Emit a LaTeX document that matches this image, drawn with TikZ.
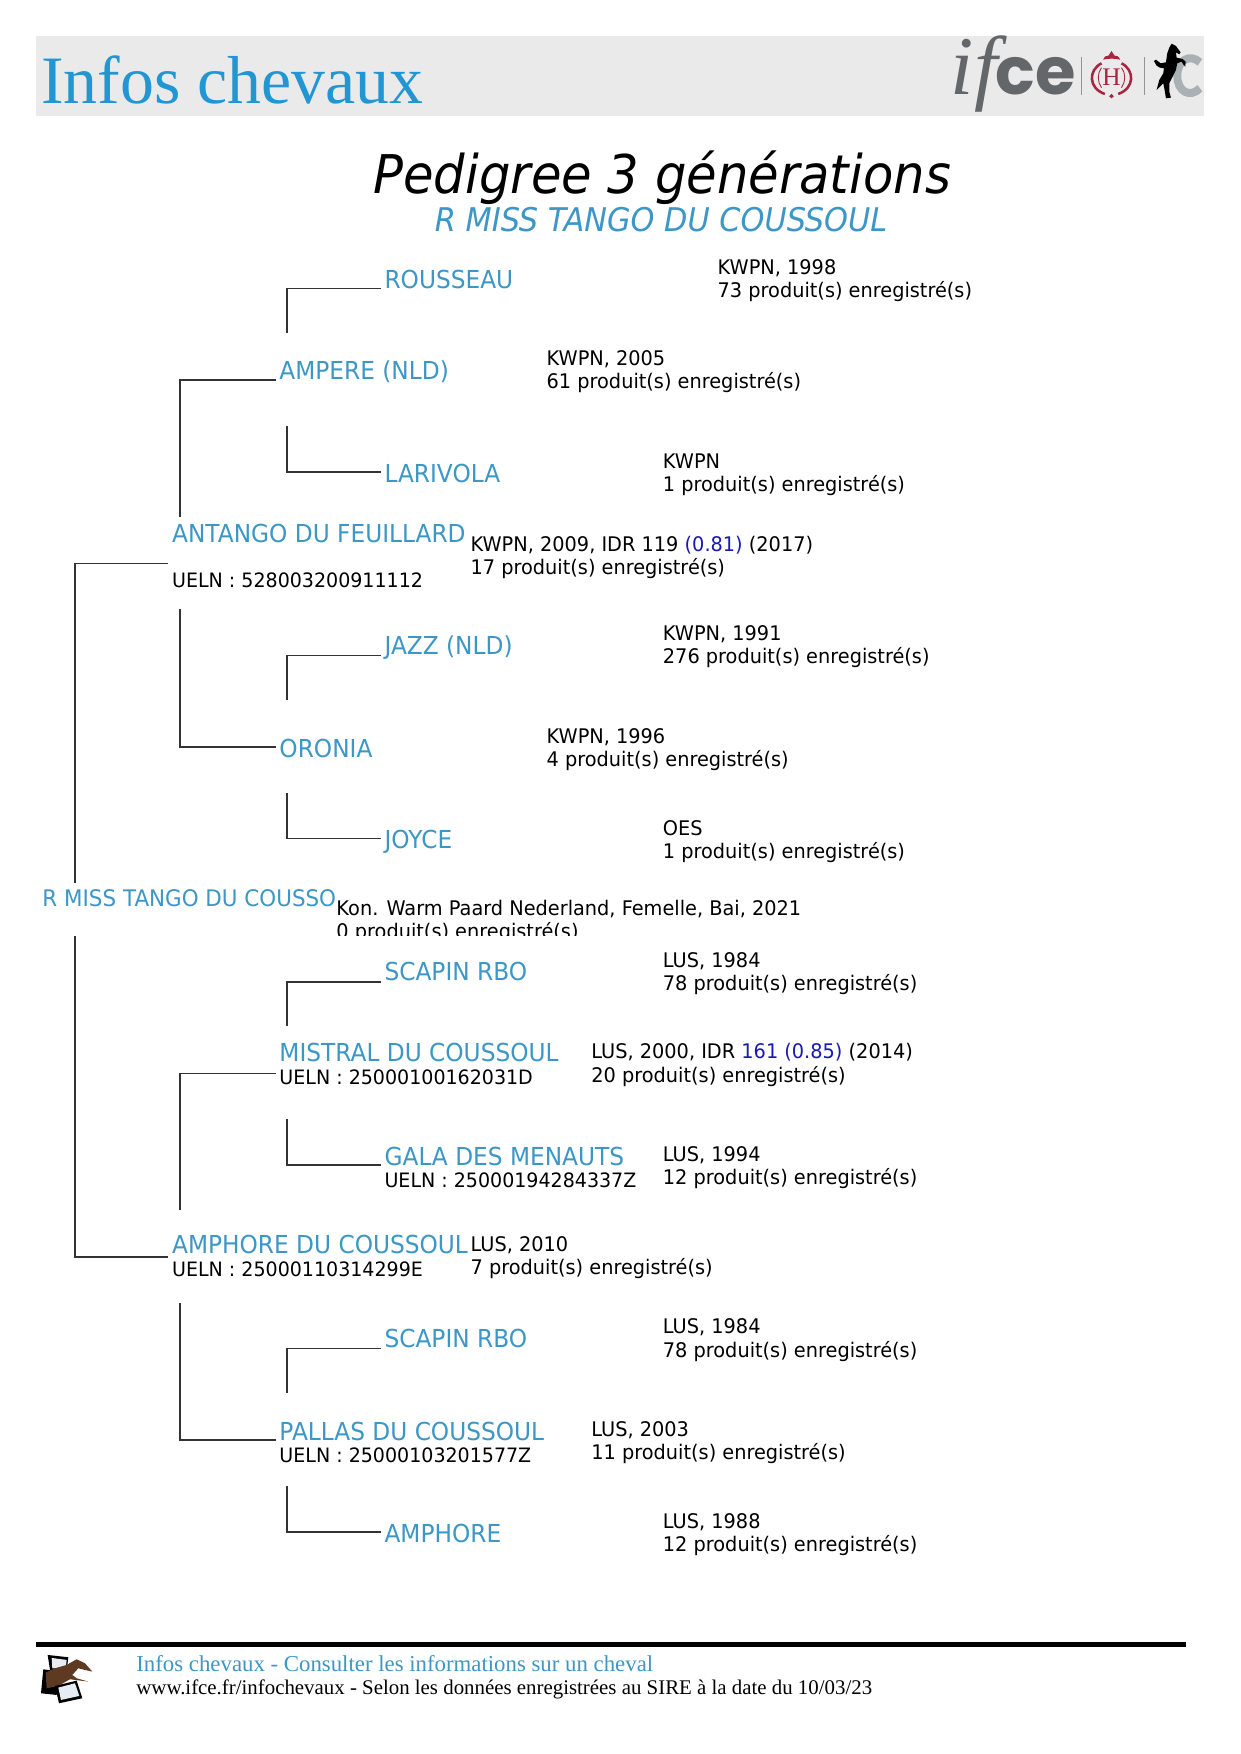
\documentclass[tikz,border=0pt]{standalone}
\usepackage{fontspec}
\usetikzlibrary{calc}
\setmainfont{DejaVu Sans}
\newfontfamily\serifface{Liberation Serif}
\newfontfamily\poppinsface{Poppins}
\newfontfamily\infoface[FakeStretch=0.96]{DejaVu Sans}
\newfontfamily\nameface[FakeStretch=0.94]{DejaVu Sans}
\newfontfamily\tahoma[FakeStretch=0.93]{DejaVu Sans}
\definecolor{bluename}{HTML}{3C97C6}
\definecolor{bluehead}{HTML}{2196D2}
\definecolor{idxblue}{HTML}{1A1AB0}
\definecolor{bannerg}{HTML}{EAEAEA}
\definecolor{logog}{HTML}{63676A}
\definecolor{logor}{HTML}{A6263E}
\definecolor{logoc}{HTML}{A9B1B5}
\definecolor{wire}{HTML}{333333}
\definecolor{screenl}{HTML}{E6ECF4}
\definecolor{horsebr}{HTML}{5E3A22}
\tikzset{
 x=0.75pt,y=-0.75pt,
 every node/.style={inner sep=0pt,outer sep=0pt,anchor=base west},
 horsename/.style={text=bluename,font=\nameface\fontsize{16.6}{20}\selectfont},
 info/.style={text=black,font=\infoface\fontsize{13.5}{15.4}\selectfont,align=left},
 ueln/.style={text=black,font=\infoface\fontsize{13.3}{15.4}\selectfont},
 wireline/.style={draw=wire,line width=1.1pt},
}
\newcommand{\link}[4]{\draw[wireline] ($(#1.base west)+(-3,#2)$) -| ($(#3.base west)+(7,#4)$);}
\newcommand{\infopair}[5]{\node[info] (#1a) at (#2,#3) {#4}; \node[info] (#1b) at (#2,#3+20.7) {#5};}
\begin{document}
\begin{tikzpicture}
\useasboundingbox (0,0) rectangle (1110,1569);
\fill[white] (0,0) rectangle (1110,1569);
\fill[bannerg] (32,32) rectangle (1077,104);
\node[text=bluehead,font=\serifface\fontsize{45.5}{50}\selectfont] (head) at (37,93) {Infos chevaux};
% logo, drawn in pixels of the reference
\begin{scope}[x=0.6708pt,y=-0.6708pt]
\node[text=logog,font=\serifface\itshape\fontsize{56}{60}\selectfont] (logoif) at (951,95) {if};
\node[text=logog,font=\poppinsface\bfseries\fontsize{44}{50}\selectfont] (logoce) at (996,95) {ce};
\draw[logog!70,line width=0.6pt] (1082,57) -- (1082,95);
\draw[logog!70,line width=0.6pt] (1145,57) -- (1145,95);
\end{scope}
\begin{scope}[shift={(957,31.3)},x=0.2236pt,y=-0.2236pt]
\draw[logor,line width=1.7pt] (95,85) .. controls (55,105) and (55,160) .. (105,177);
\draw[logor,line width=1.7pt] (155,85) .. controls (195,105) and (195,160) .. (145,177);
\draw[logor,line width=0.6pt] (95,98) .. controls (82,115) and (82,140) .. (95,158);
\draw[logor,line width=0.6pt] (155,98) .. controls (168,115) and (168,140) .. (155,158);
\node[text=logor,font=\serifface\fontsize{17}{20}\selectfont,anchor=center] (logoh) at (125,128) {H};
\fill[logor] (100,74) .. controls (104,62) and (112,62) .. (116,62) -- (125,48) -- (134,62) .. controls (140,62) and (146,62) .. (151,74) .. controls (135,70) and (115,70) .. (100,74) -- cycle;
\fill[logor] (125,177) -- (132,184) -- (125,190) -- (118,184) -- cycle;
\end{scope}
\begin{scope}[shift={(1019.7,31.3)},x=0.2236pt,y=-0.2236pt]
\draw[logoc,line width=5.4pt] (180,82) .. controls (150,55) and (112,75) .. (112,122) .. controls (112,170) and (150,190) .. (180,160);
\fill[black] (95,26) -- (108,33) -- (122,52) -- (118,58) -- (108,52) -- (110,68) -- (128,72) -- (137,80) -- (136,95) -- (130,88) -- (125,80) -- (112,85) -- (108,105) -- (98,125) -- (88,145) -- (88,170) -- (93,188) -- (78,190) -- (74,165) -- (70,145) -- (60,155) -- (50,165) -- (58,135) -- (70,115) -- (72,100) -- (60,98) -- (50,92) -- (42,78) -- (48,74) -- (62,85) -- (78,82) -- (82,55) -- (88,38) -- cycle;
\end{scope}
% titles
\node[text=black,font=\tahoma\itshape\fontsize{35.8}{40}\selectfont] (title) at (334,173) {Pedigree 3 générations};
\node[text=bluename,font=\tahoma\itshape\fontsize{21.9}{24}\selectfont] (sub) at (389,207) {R MISS TANGO DU COUSSOUL};
\begin{scope}[yshift=-0.9pt]
% names
\node[horsename] (rou) at (344,257) {ROUSSEAU};
\node[horsename] (amp) at (250,338) {AMPERE (NLD)};
\node[horsename] (lar) at (344,430) {LARIVOLA};
\node[horsename] (ant) at (154,484) {ANTANGO DU FEUILLARD};
\node[ueln] (antu) at (154,524) {UELN : 528003200911112};
\node[horsename] (jaz) at (344,584) {JAZZ (NLD)};
\node[horsename] (oro) at (250,676) {ORONIA};
\node[horsename] (joy) at (344,758) {JOYCE};
\begin{scope}
\clip (30,780) rectangle (301,836);
\node[horsename,font=\nameface\fontsize{15.3}{18}\selectfont] (root) at (38,810) {R MISS TANGO DU COUSSO};
\end{scope}
\node[horsename] (sc1) at (344,876) {SCAPIN RBO};
\node[horsename] (mis) at (250,948) {MISTRAL DU COUSSOUL};
\node[ueln] (misu) at (250,969) {UELN : 25000100162031D};
\node[horsename] (gal) at (344,1041) {GALA DES MENAUTS};
\node[ueln] (galu) at (344,1061) {UELN : 25000194284337Z};
\node[horsename] (aph) at (154,1120) {AMPHORE DU COUSSOUL};
\node[ueln] (aphu) at (154,1141) {UELN : 25000110314299E};
\node[horsename] (sc2) at (344,1204) {SCAPIN RBO};
\node[horsename] (pal) at (250,1287) {PALLAS DU COUSSOUL};
\node[ueln] (palu) at (250,1307) {UELN : 25000103201577Z};
\node[horsename] (ama) at (344,1379) {AMPHORE};
% info
\infopair{irou}{642}{244}{KWPN, 1998}{73 produit(s) enregistré(s)}
\infopair{iamp}{489}{326}{KWPN, 2005}{61 produit(s) enregistré(s)}
\infopair{ilar}{593}{418}{KWPN}{1 produit(s) enregistré(s)}
\infopair{iant}{421}{492}{KWPN, 2009, IDR 119 \textcolor{idxblue}{(0.81)} (2017)}{17 produit(s) enregistré(s)}
\infopair{ijaz}{593}{572}{KWPN, 1991}{276 produit(s) enregistré(s)}
\infopair{ioro}{489}{664}{KWPN, 1996}{4 produit(s) enregistré(s)}
\infopair{ijoy}{593}{746}{OES}{1 produit(s) enregistré(s)}
\begin{scope}
\clip (295,795) rectangle (760,836);
\infopair{iroot}{301}{818}{Kon. Warm Paard Nederland, Femelle, Bai, 2021}{0 produit(s) enregistré(s)}
\end{scope}
\infopair{isc1}{593}{864}{LUS, 1984}{78 produit(s) enregistré(s)}
\infopair{imis}{529}{946}{LUS, 2000, IDR \textcolor{idxblue}{161 (0.85)} (2014)}{20 produit(s) enregistré(s)}
\infopair{igal}{593}{1038}{LUS, 1994}{12 produit(s) enregistré(s)}
\infopair{iaph}{421}{1118}{LUS, 2010}{7 produit(s) enregistré(s)}
\infopair{isc2}{593}{1192}{LUS, 1984}{78 produit(s) enregistré(s)}
\infopair{ipal}{529}{1284}{LUS, 2003}{11 produit(s) enregistré(s)}
\infopair{iama}{593}{1366}{LUS, 1988}{12 produit(s) enregistré(s)}
% connectors
\link{rou}{0}{amp}{-41}
\link{lar}{-9}{amp}{42}
\link{amp}{1}{ant}{-23}
\link{oro}{-9}{antu}{20}
\link{jaz}{1}{oro}{-51}
\link{joy}{-9}{oro}{32}
\link{sc1}{1}{mis}{-31}
\link{gal}{0}{mis}{52}
\link{mis}{11}{aph}{-39}
\link{pal}{0}{aphu}{23}
\link{sc2}{1}{pal}{-42}
\link{ama}{-10}{pal}{41}
\draw[wireline] ($(ant.base west)+(-4,19)$) -| ($(root.base west)+(29,-21)$);
\draw[wireline] ($(aph.base west)+(-4,3)$) -| ($(root.base west)+(29,26)$);
\end{scope}
% footer
\draw[black,line width=2.8pt] (32,1471) -- (1061,1471);
\node[text=bluename,font=\serifface\fontsize{15.3}{18}\selectfont] (foot1) at (122,1495) {Infos chevaux - Consulter les informations sur un cheval};
\node[text=black,font=\serifface\fontsize{14.0}{18}\selectfont] (foot2) at (122,1516) {www.ifce.fr/infochevaux - Selon les données enregistrées au SIRE à la date du 10/03/23};
% footer icon, from the crop at (35,1650)
\begin{scope}[shift={(31.3,1475.9)},x=0.2236pt,y=-0.2236pt]
\fill[black] (38,15) -- (100,22) -- (95,62) -- (45,60) -- cycle;
\fill[screenl] (50,24) -- (95,30) -- (92,58) -- (52,55) -- cycle;
\fill[black] (25,58) -- (75,65) -- (65,135) -- (18,130) -- cycle;
\fill[horsebr] (32,68) -- (60,55) -- (95,45) -- (125,28) -- (150,40) -- (172,65) -- (150,60) -- (130,55) -- (112,75) -- (125,85) -- (160,95) -- (105,88) -- (70,108) -- (35,115) -- cycle;
\fill[black] (60,108) -- (125,92) -- (142,145) -- (72,160) -- cycle;
\fill[screenl] (70,113) -- (120,100) -- (133,138) -- (78,150) -- cycle;
\end{scope}
\end{tikzpicture}
\end{document}
